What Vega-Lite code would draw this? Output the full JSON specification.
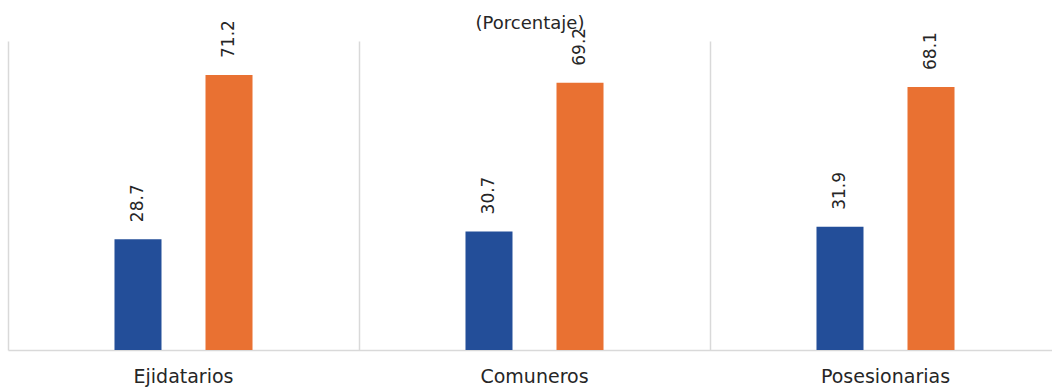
{
  "$schema": "https://vega.github.io/schema/vega-lite/v6.json",
  "autosize": {"type": "none"},
  "width": 1044,
  "height": 309,
  "padding": {"left": 8, "top": 41, "right": 0, "bottom": 40},
  "background": "white",
  "title": {
    "text": "(Porcentaje)",
    "fontSize": 18,
    "font": "DejaVu Sans",
    "fontWeight": "normal",
    "color": "#262626",
    "anchor": "middle",
    "offset": -13
  },
  "data": {
    "values": [
      {"grupo": "Ejidatarios", "serie": "Mujeres", "valor": 28.7},
      {"grupo": "Ejidatarios", "serie": "Hombres", "valor": 71.2},
      {"grupo": "Comuneros", "serie": "Mujeres", "valor": 30.7},
      {"grupo": "Comuneros", "serie": "Hombres", "valor": 69.2},
      {"grupo": "Posesionarias", "serie": "Mujeres", "valor": 31.9},
      {"grupo": "Posesionarias", "serie": "Hombres", "valor": 68.1}
    ]
  },
  "encoding": {
    "x": {
      "field": "grupo",
      "type": "nominal",
      "sort": ["Ejidatarios", "Comuneros", "Posesionarias"],
      "scale": {"paddingInner": 0, "paddingOuter": 0, "range": [0, 1053]},
      "axis": {
        "title": null,
        "labelAngle": 0,
        "labelFont": "DejaVu Sans",
        "labelFontSize": 19,
        "labelColor": "#262626",
        "labelPadding": 17,
        "ticks": false,
        "domainColor": "#d9d9d9",
        "domainWidth": 1.5,
        "grid": true,
        "gridColor": "#d9d9d9",
        "gridWidth": 1.5,
        "bandPosition": 0
      }
    },
    "xOffset": {
      "field": "serie",
      "type": "nominal",
      "scale": {"domain": ["_a", "Mujeres", "Hombres", "_b"], "paddingInner": 0.4835, "paddingOuter": 0.17}
    },
    "y": {
      "field": "valor",
      "type": "quantitative",
      "scale": {"domain": [0, 80], "nice": false},
      "axis": null
    }
  },
  "layer": [
    {
      "mark": {"type": "bar"},
      "encoding": {
        "color": {
          "field": "serie",
          "type": "nominal",
          "scale": {"domain": ["Mujeres", "Hombres"], "range": ["#234e99", "#e97132"]},
          "legend": null
        }
      }
    },
    {
      "mark": {
        "type": "text",
        "angle": 270,
        "align": "left",
        "baseline": "middle",
        "dx": 17,
        "font": "DejaVu Sans",
        "fontSize": 17,
        "color": "#262626"
      },
      "encoding": {
        "text": {"field": "valor", "type": "quantitative", "format": ".1f"}
      }
    }
  ],
  "config": {
    "view": {"stroke": null}
  }
}
